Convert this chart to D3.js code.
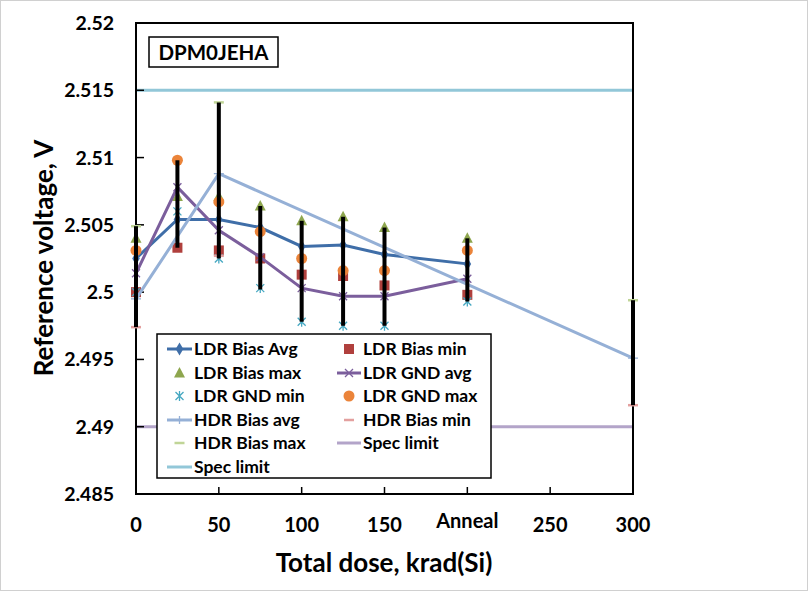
<!DOCTYPE html>
<html>
<head>
<meta charset="utf-8">
<script src="https://d3js.org/d3.v7.min.js"></script>
<style>
  body { margin: 0; background: #fff; }
  svg text { font-family: Lato, "Open Sans", sans-serif; font-weight: bold; fill: #000; }
</style>
</head>
<body>
<div id="chart"></div>
<script>
// x positions (krad) ; 200 is the anneal step
var ldrDose = [0, 25, 50, 75, 100, 125, 150, 200];
var hdrDose = [0, 50, 300];

var ldrBiasAvg = [2.5025, 2.5054, 2.5054, 2.5048, 2.5034, 2.5035, 2.5028, 2.5021];
var ldrBiasMin = [2.5000, 2.5033, 2.5031, 2.5025, 2.5013, 2.5012, 2.5005, 2.4998];
var ldrBiasMax = [2.5040, 2.5071, 2.5071, 2.5064, 2.5053, 2.5056, 2.5048, 2.5040];
var ldrGndAvg  = [2.5014, 2.5078, 2.5046, 2.5026, 2.5003, 2.4997, 2.4997, 2.5010];
var ldrGndMin  = [2.5000, 2.5060, 2.5025, 2.5003, 2.4978, 2.4975, 2.4975, 2.4993];
var ldrGndMax  = [2.5031, 2.5098, 2.5067, 2.5045, 2.5025, 2.5016, 2.5016, 2.5031];

var hdrBiasAvg = [2.4995, 2.5088, 2.4951];
var hdrBiasMin = [2.4974, 2.5027, 2.4916];
var hdrBiasMax = [2.5049, 2.5141, 2.4994];

// error bars (range of all samples at each dose)
var errDose = [0, 25, 50, 75, 100, 125, 150, 200, 300];
var errLow  = [2.4974, 2.5033, 2.5025, 2.5002, 2.4978, 2.4975, 2.4975, 2.4993, 2.4916];
var errHigh = [2.5049, 2.5098, 2.5141, 2.5064, 2.5053, 2.5056, 2.5048, 2.5040, 2.4994];

var specLimits = [2.515, 2.49];
var xTicks = [0, 50, 100, 150, 200, 250, 300];
var xTickLabels = ["0", "50", "100", "150", "Anneal", "250", "300"];
var yTicks = [2.485, 2.49, 2.495, 2.5, 2.505, 2.51, 2.515, 2.52];
var yTickLabels = ["2.485", "2.49", "2.495", "2.5", "2.505", "2.51", "2.515", "2.52"];

var W = 809, H = 592;
var svg = d3.select("#chart").append("svg").attr("width", W).attr("height", H);

svg.append("rect").attr("x", 0.5).attr("y", 0.5).attr("width", W - 2).attr("height", H - 2)
  .attr("fill", "#fff").attr("stroke", "#d0d0d0");

var x = d3.scaleLinear().domain([0, 300]).range([136, 633]);
var y = d3.scaleLinear().domain([2.485, 2.52]).range([494, 23]);

var C = {
  ldrAvg: "#3f6ea8", ldrMin: "#b0403d", ldrMax: "#8ea64e", gndAvg: "#7b5e9c",
  gndMin: "#46a8c2", gndMax: "#eb843a", hdrAvg: "#95b0d6", hdrMin: "#e3a09f",
  hdrMax: "#c0d597", specLo: "#b3a4c9", specHi: "#92c7d8"
};

// spec limit lines
svg.append("line").attr("x1", x(0)).attr("x2", x(300))
  .attr("y1", y(specLimits[0])).attr("y2", y(specLimits[0]))
  .attr("stroke", C.specHi).attr("stroke-width", 3);
svg.append("line").attr("x1", x(0)).attr("x2", x(300))
  .attr("y1", y(specLimits[1])).attr("y2", y(specLimits[1]))
  .attr("stroke", C.specLo).attr("stroke-width", 3);

// frame
svg.append("rect").attr("x", x(0)).attr("y", y(2.52))
  .attr("width", x(300) - x(0)).attr("height", y(2.485) - y(2.52))
  .attr("fill", "none").attr("stroke", "#000").attr("stroke-width", 2);

// ticks (inside)
svg.selectAll(".xt").data(xTicks.slice(1, -1)).enter().append("line")
  .attr("x1", d => x(d)).attr("x2", d => x(d))
  .attr("y1", y(2.485)).attr("y2", y(2.485) - 7)
  .attr("stroke", "#000").attr("stroke-width", 1.5);
svg.selectAll(".yt").data(yTicks.slice(1, -1)).enter().append("line")
  .attr("x1", x(0)).attr("x2", x(0) + 8)
  .attr("y1", d => y(d)).attr("y2", d => y(d))
  .attr("stroke", "#000").attr("stroke-width", 1.5);

// tick labels
svg.selectAll(".xl").data(xTicks).enter().append("text")
  .attr("x", d => x(d)).attr("y", (d, i) => xTickLabels[i] === "Anneal" ? 528 : 532)
  .attr("text-anchor", "middle").style("font-size", "20px")
  .text((d, i) => xTickLabels[i]);
svg.selectAll(".yl").data(yTicks).enter().append("text")
  .attr("x", 114).attr("y", d => y(d) + 7)
  .attr("text-anchor", "end").style("font-size", "19.5px")
  .text((d, i) => yTickLabels[i]);

// axis titles
svg.append("text").attr("transform", "translate(53,258) rotate(-90)")
  .attr("text-anchor", "middle").style("font-size", "26px").text("Reference voltage, V");
svg.append("text").attr("x", 384).attr("y", 572)
  .attr("text-anchor", "middle").style("font-size", "26px").text("Total dose, krad(Si)");

// title box
svg.append("rect").attr("x", 149).attr("y", 37).attr("width", 129).attr("height", 30)
  .attr("fill", "#fff").attr("stroke", "#000").attr("stroke-width", 1.5);
svg.append("text").attr("x", 213.5).attr("y", 59.5).attr("text-anchor", "middle")
  .style("font-size", "20.5px").text("DPM0JEHA");

// marker shapes
function marker(g, type, color, cx, cy) {
  if (type === "diamond") {
    g.append("path").attr("d", d3.symbol(d3.symbolDiamond, 50)())
      .attr("transform", "translate(" + cx + "," + cy + ")").attr("fill", color);
  } else if (type === "square") {
    g.append("rect").attr("x", cx - 5).attr("y", cy - 5).attr("width", 10).attr("height", 10).attr("fill", color);
  } else if (type === "triangle") {
    g.append("path").attr("d", "M0,-6L5.5,4.5L-5.5,4.5Z")
      .attr("transform", "translate(" + cx + "," + cy + ")").attr("fill", color);
  } else if (type === "circle") {
    g.append("circle").attr("cx", cx).attr("cy", cy).attr("r", 5.5).attr("fill", color);
  } else if (type === "x") {
    g.append("path").attr("d", "M-4,-4L4,4M-4,4L4,-4")
      .attr("transform", "translate(" + cx + "," + cy + ")").attr("stroke", color).attr("stroke-width", 1.3);
  } else if (type === "star") {
    g.append("path").attr("d", "M-4,-4L4,4M-4,4L4,-4M0,-5L0,5")
      .attr("transform", "translate(" + cx + "," + cy + ")").attr("stroke", color).attr("stroke-width", 1.3);
  } else if (type === "plus") {
    g.append("path").attr("d", "M-5,0L5,0M0,-4L0,4")
      .attr("transform", "translate(" + cx + "," + cy + ")").attr("stroke", color).attr("stroke-width", 1.3);
  } else if (type === "dash") {
    g.append("path").attr("d", "M-5,0L5,0")
      .attr("transform", "translate(" + cx + "," + cy + ")").attr("stroke", color).attr("stroke-width", 2.5);
  }
}

var series = [
  { name: "LDR Bias Avg", xs: ldrDose, ys: ldrBiasAvg, color: C.ldrAvg, line: true, m: "diamond" },
  { name: "LDR Bias min", xs: ldrDose, ys: ldrBiasMin, color: C.ldrMin, line: false, m: "square" },
  { name: "LDR Bias max", xs: ldrDose, ys: ldrBiasMax, color: C.ldrMax, line: false, m: "triangle" },
  { name: "LDR GND avg", xs: ldrDose, ys: ldrGndAvg, color: C.gndAvg, line: true, m: "x" },
  { name: "LDR GND min", xs: ldrDose, ys: ldrGndMin, color: C.gndMin, line: false, m: "star" },
  { name: "LDR GND max", xs: ldrDose, ys: ldrGndMax, color: C.gndMax, line: false, m: "circle" },
  { name: "HDR Bias avg", xs: hdrDose, ys: hdrBiasAvg, color: C.hdrAvg, line: true, m: "plus" },
  { name: "HDR Bias min", xs: hdrDose, ys: hdrBiasMin, color: C.hdrMin, line: false, m: "dash" },
  { name: "HDR Bias max", xs: hdrDose, ys: hdrBiasMax, color: C.hdrMax, line: false, m: "dash" }
];

var lineGen = d3.line().x(d => x(d[0])).y(d => y(d[1]));
var plot = svg.append("g");

series.forEach(function (s) {
  var pts = s.xs.map((v, i) => [v, s.ys[i]]);
  if (s.line) {
    plot.append("path").attr("d", lineGen(pts)).attr("fill", "none")
      .attr("stroke", s.color).attr("stroke-width", 3);
  }
  pts.forEach(p => marker(plot, s.m, s.color, x(p[0]), y(p[1])));
});

// error bars
plot.selectAll(".err").data(errDose).enter().append("line")
  .attr("x1", d => x(d)).attr("x2", d => x(d))
  .attr("y1", (d, i) => y(errLow[i])).attr("y2", (d, i) => y(errHigh[i]))
  .attr("stroke", "#000").attr("stroke-width", 4);

// legend
var lg = svg.append("g");
lg.append("rect").attr("x", 157).attr("y", 334).attr("width", 334).attr("height", 144)
  .attr("fill", "#fff").attr("stroke", "#000").attr("stroke-width", 1.5);

var legendItems = series.concat([
  { name: "Spec limit", color: C.specLo, line: true, m: null },
  { name: "Spec limit", color: C.specHi, line: true, m: null }
]);
var rowY = [349, 373, 396, 420, 443, 467];
legendItems.forEach(function (s, i) {
  var col = i % 2, row = Math.floor(i / 2);
  var x0 = col === 0 ? 167 : 337, x1 = col === 0 ? 192 : 361, cy = rowY[row];
  if (s.line) {
    lg.append("line").attr("x1", x0).attr("x2", x1).attr("y1", cy).attr("y2", cy)
      .attr("stroke", s.color).attr("stroke-width", 3);
  }
  if (s.m) marker(lg, s.m, s.color, (x0 + x1) / 2, cy);
  lg.append("text").attr("x", x1 + 2).attr("y", cy + 6).style("font-size", "17.5px").text(s.name);
});
</script>
</body>
</html>
